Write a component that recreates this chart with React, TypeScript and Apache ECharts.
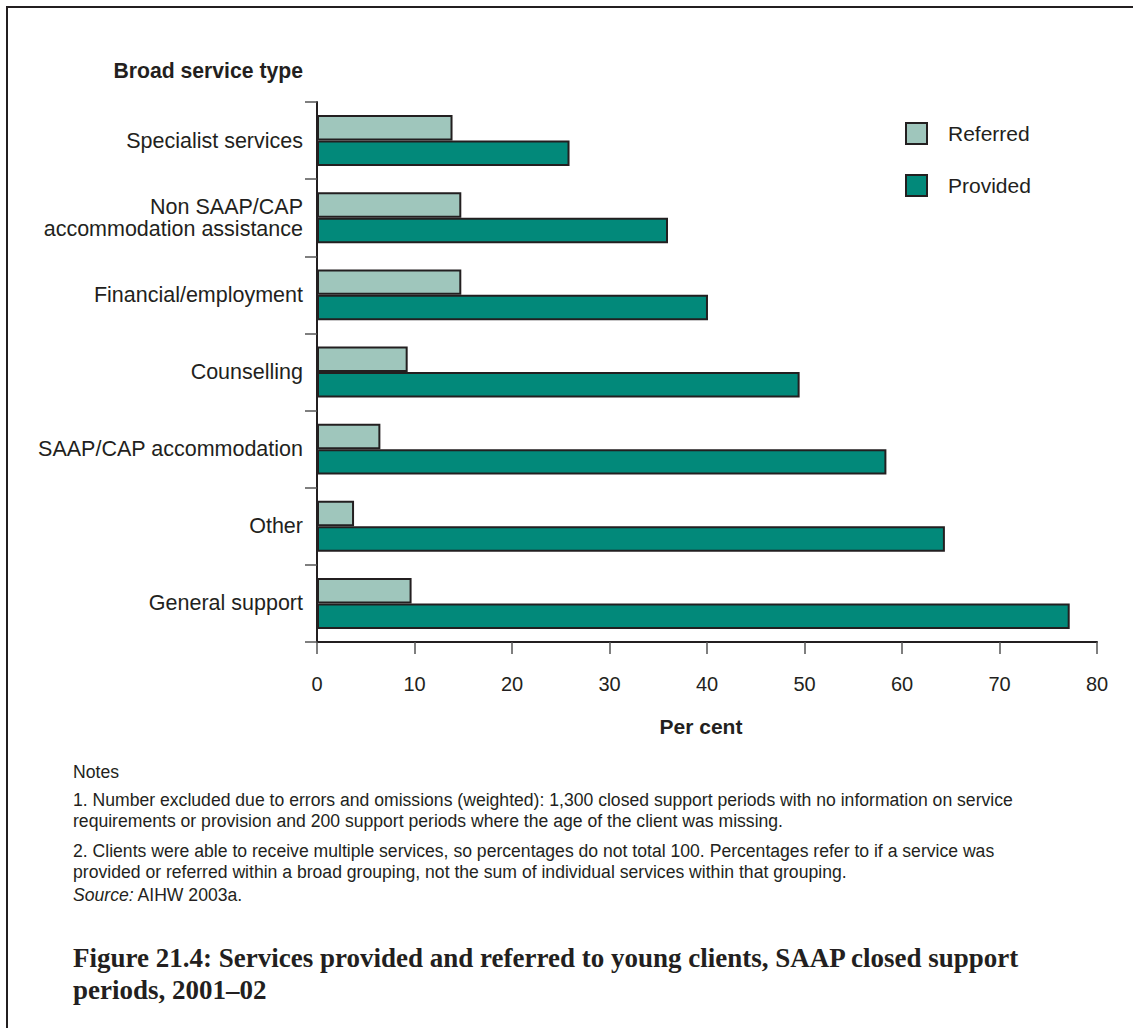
import React, { useEffect, useRef } from "react";
import * as echarts from "echarts";

// Broad service types, top to bottom
const categories = [
  "Specialist services",
  "Non SAAP/CAP\naccommodation assistance",
  "Financial/employment",
  "Counselling",
  "SAAP/CAP accommodation",
  "Other",
  "General support",
];

// Per cent of closed support periods
const referred = [13.9, 14.8, 14.8, 9.3, 6.5, 3.8, 9.7];
const provided = [25.9, 36.0, 40.1, 49.5, 58.4, 64.4, 77.2];

const xTicks = { min: 0, max: 80, interval: 10 };

const noteLines = [
  "1. Number excluded due to errors and omissions (weighted): 1,300 closed support periods with no information on service",
  "requirements or provision and 200 support periods where the age of the client was missing.",
  "2. Clients were able to receive multiple services, so percentages do not total 100. Percentages refer to if a service was",
  "provided or referred within a broad grouping, not the sum of individual services within that grouping.",
];

const titleLines = [
  "Figure 21.4: Services provided and referred to young clients, SAAP closed support",
  "periods, 2001\u201302",
];

const INK = "#231f20";
const LIGHT = "#9fc6bc";
const DARK = "#02897a";
const SANS = "'Liberation Sans', Arial, Helvetica, sans-serif";
const SERIF = "'Liberation Serif', 'Times New Roman', serif";
const NOTE_SIZE = 17.6;

export default function App() {
  const ref = useRef<HTMLDivElement>(null);

  useEffect(() => {
    if (!ref.current) return;
    const chart = echarts.init(ref.current, undefined, { renderer: "svg" });

    const barStyle = (color: string) => ({
      color,
      borderColor: INK,
      borderWidth: 2,
    });

    const notesY = [800, 821, 851, 872];

    chart.setOption({
      animation: false,
      backgroundColor: "#ffffff",
      textStyle: { fontFamily: SANS, color: INK },
      grid: { left: 317, top: 102, right: 36, bottom: 386, containLabel: false },
      legend: {
        orient: "vertical",
        left: 905,
        top: 122,
        padding: 0,
        itemWidth: 21,
        itemHeight: 21,
        itemGap: 29,
        icon: "rect",
        data: ["Referred", "Provided"],
        textStyle: { fontSize: 21, color: INK, fontFamily: SANS, padding: [0, 0, 0, 16] },
        itemStyle: { borderColor: INK, borderWidth: 2 },
      },
      xAxis: {
        type: "value",
        min: xTicks.min,
        max: xTicks.max,
        interval: xTicks.interval,
        name: "Per cent",
        nameLocation: "middle",
        nameGap: 74,
        nameTextStyle: {
          fontSize: 21,
          fontWeight: "bold",
          color: INK,
          fontFamily: SANS,
          padding: [0, 12, 0, 0],
        },
        axisLine: { show: true, lineStyle: { color: INK, width: 2 } },
        axisTick: { show: true, length: 12, lineStyle: { color: "#555", width: 1.5 } },
        axisLabel: { fontSize: 20, color: INK, margin: 32, fontFamily: SANS },
        splitLine: { show: false },
      },
      yAxis: {
        type: "category",
        inverse: true,
        data: categories,
        axisLine: { show: true, lineStyle: { color: INK, width: 2 } },
        axisTick: { show: true, length: 12, lineStyle: { color: "#555", width: 1.5 } },
        axisLabel: {
          fontSize: 21.5,
          color: INK,
          margin: 14,
          lineHeight: 22,
          align: "right",
          fontFamily: SANS,
        },
        splitLine: { show: false },
      },
      series: [
        {
          name: "Referred",
          type: "bar",
          data: referred,
          barGap: "0%",
          barCategoryGap: "34%",
          itemStyle: barStyle(LIGHT),
        },
        {
          name: "Provided",
          type: "bar",
          data: provided,
          barGap: "0%",
          barCategoryGap: "34%",
          itemStyle: barStyle(DARK),
        },
      ],
      graphic: [
        {
          type: "rect",
          shape: { x: 7, y: 7, width: 1400, height: 1400 },
          style: { fill: "none", stroke: INK, lineWidth: 2 },
          silent: true,
        },
        {
          type: "text",
          style: {
            text: "Broad service type",
            x: 303,
            y: 70,
            textAlign: "right",
            textVerticalAlign: "middle",
            fontSize: 21.2,
            fontWeight: "bold",
            fontFamily: SANS,
            fill: INK,
          },
        },
        {
          type: "text",
          style: {
            text: "Notes",
            x: 73,
            y: 772,
            textVerticalAlign: "middle",
            fontSize: NOTE_SIZE,
            fontFamily: SANS,
            fill: INK,
          },
        },
        ...noteLines.map((t, i) => ({
          type: "text",
          style: {
            text: t,
            x: 73,
            y: notesY[i],
            textVerticalAlign: "middle",
            fontSize: NOTE_SIZE,
            fontFamily: SANS,
            fill: INK,
          },
        })),
        {
          type: "text",
          style: {
            text: "{i|Source:} AIHW 2003a.",
            x: 73,
            y: 895,
            textVerticalAlign: "middle",
            fontSize: NOTE_SIZE,
            fontFamily: SANS,
            fill: INK,
            rich: {
              i: { fontStyle: "italic", fontSize: NOTE_SIZE, fontFamily: SANS, fill: INK },
            },
          },
        },
        ...titleLines.map((t, i) => ({
          type: "text",
          style: {
            text: t,
            x: 73,
            y: 958 + i * 32,
            textVerticalAlign: "middle",
            fontSize: 27,
            fontWeight: "bold",
            fontFamily: SERIF,
            fill: INK,
          },
        })),
      ],
    });

    return () => chart.dispose();
  }, []);

  return (
    <div
      ref={ref}
      style={{ position: "absolute", left: 0, top: 0, width: 1133, height: 1028, background: "#fff" }}
    />
  );
}
